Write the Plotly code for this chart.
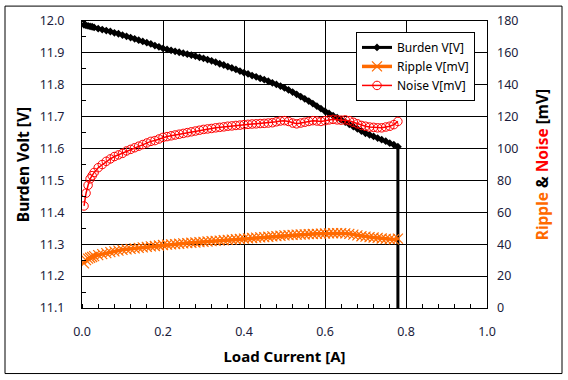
import plotly.graph_objects as go

load_current = [0.005, 0.01, 0.015, 0.02, 0.025, 0.03, 0.04, 0.05, 0.06, 0.07, 0.08, 0.09,
                0.10, 0.11, 0.12, 0.13, 0.14, 0.15, 0.16, 0.17, 0.18, 0.19,
                0.20, 0.21, 0.22, 0.23, 0.24, 0.25, 0.26, 0.27, 0.28, 0.29,
                0.30, 0.31, 0.32, 0.33, 0.34, 0.35, 0.36, 0.37, 0.38, 0.39,
                0.40, 0.41, 0.42, 0.43, 0.44, 0.45, 0.46, 0.47, 0.48, 0.49,
                0.50, 0.51, 0.52, 0.53, 0.54, 0.55, 0.56, 0.57, 0.58, 0.59,
                0.60, 0.61, 0.62, 0.63, 0.64, 0.65, 0.66, 0.67, 0.68, 0.69,
                0.70, 0.71, 0.72, 0.73, 0.74, 0.75, 0.76, 0.77, 0.78]

burden_v = [11.988, 11.986, 11.985, 11.983, 11.982, 11.980, 11.976, 11.973, 11.970, 11.967, 11.963, 11.960,
            11.956, 11.952, 11.948, 11.944, 11.940, 11.936, 11.932, 11.928, 11.923, 11.919,
            11.914, 11.911, 11.908, 11.905, 11.902, 11.899, 11.896, 11.893, 11.890, 11.886,
            11.883, 11.879, 11.875, 11.871, 11.866, 11.862, 11.857, 11.853, 11.848, 11.843,
            11.838, 11.834, 11.829, 11.825, 11.820, 11.816, 11.811, 11.806, 11.801, 11.796,
            11.790, 11.784, 11.777, 11.770, 11.763, 11.756, 11.749, 11.741, 11.733, 11.725,
            11.717, 11.710, 11.703, 11.697, 11.690, 11.683, 11.676, 11.669, 11.662, 11.655,
            11.648, 11.643, 11.638, 11.633, 11.628, 11.623, 11.617, 11.612, 11.606]
# final reading after the supply dropped out
burden_drop_x = [0.78]
burden_drop_v = [0.0]

ripple_mv = [28, 30, 31, 31.5, 32, 32.5, 33.2, 33.8, 34.4, 35, 35.5, 36,
             36.5, 36.8, 37.1, 37.4, 37.7, 38, 38.3, 38.6, 38.9, 39.2,
             39.5, 39.7, 39.9, 40.1, 40.3, 40.5, 40.7, 40.9, 41.1, 41.3,
             41.5, 41.7, 41.9, 42.1, 42.3, 42.5, 42.7, 42.9, 43.1, 43.3,
             43.5, 43.7, 43.9, 44.1, 44.3, 44.5, 44.7, 44.9, 45.1, 45.3,
             45.5, 45.7, 45.9, 46.0, 46.1, 46.2, 46.3, 46.4, 46.5, 46.6,
             46.7, 46.8, 46.9, 47, 47, 46.8, 46.5, 46, 45.5, 45,
             44.8, 44.5, 44.2, 44, 43.6, 43.4, 43.2, 43, 43.5]

noise_mv = [64, 72, 77, 81, 83, 85, 88, 90, 92, 93.5, 95, 96,
            97, 98.5, 99.5, 100.5, 101.5, 102.5, 103.5, 104.5, 105, 106,
            107, 107.5, 108, 108.5, 109, 109.5, 110, 110.5, 111, 111.5,
            112, 112.3, 112.6, 113, 113.3, 113.6, 114, 114.2, 114.5, 114.7,
            115, 115.2, 115.4, 115.5, 115.7, 115.8, 116, 116.2, 116.8, 117.3,
            117.5, 117, 116, 115.5, 116, 116.5, 117, 117.5, 117.3, 117,
            117.5, 118, 118.3, 118, 117.8, 118, 117.5, 116.5, 115.5, 114.5,
            114, 113.5, 113.3, 113, 113, 113.5, 114, 115, 117]

x_ticks = [0.0, 0.2, 0.4, 0.6, 0.8, 1.0]
y_ticks = [11.1, 11.2, 11.3, 11.4, 11.5, 11.6, 11.7, 11.8, 11.9, 12.0]
y2_ticks = [0, 20, 40, 60, 80, 100, 120, 140, 160, 180]

FONT = "Noto Sans, DejaVu Sans, sans-serif"
TICK_COLOR = "#1c1c3c"
ORANGE = "#FF6A00"
RED = "#FF0000"

fig = go.Figure()

fig.add_trace(go.Scatter(
    x=load_current + burden_drop_x, y=burden_v + burden_drop_v,
    name="Burden V[V]", mode="lines+markers",
    line=dict(color="black", width=3),
    marker=dict(symbol="diamond", size=6, color="black"),
    yaxis="y"))

fig.add_trace(go.Scatter(
    x=load_current, y=ripple_mv,
    name="Ripple V[mV]", mode="lines+markers",
    line=dict(color=ORANGE, width=3.5),
    marker=dict(symbol="x-thin", size=10, line=dict(color=ORANGE, width=1.2)),
    yaxis="y2"))

fig.add_trace(go.Scatter(
    x=load_current, y=noise_mv,
    name="Noise V[mV]", mode="lines+markers",
    line=dict(color=RED, width=1.5),
    marker=dict(symbol="circle-open", size=8.5, color=RED, line=dict(width=1)),
    yaxis="y2"))

L, R, T, B = 82, 81, 19, 72
W, H = 568, 380
pw, ph = W - L - R, H - T - B

def px_x(p):
    return (p - L) / pw

def px_y(p):
    return (H - B - p) / ph

fig.update_layout(
    width=W, height=H,
    margin=dict(l=L, r=R, t=T, b=B),
    paper_bgcolor="white", plot_bgcolor="white",
    font=dict(family=FONT, size=12, color=TICK_COLOR),
    showlegend=True,
    legend=dict(x=px_x(356), y=px_y(30), xanchor="left", yanchor="top",
                bgcolor="white", bordercolor="black", borderwidth=1,
                font=dict(family=FONT, size=12, color="black"),
                itemwidth=30, tracegroupgap=0),
    xaxis=dict(range=[0, 1], tickvals=x_ticks, ticktext=[f"{v:.1f}" for v in x_ticks],
               showgrid=True, gridcolor="black", gridwidth=1,
               showline=True, linecolor="black", linewidth=1, mirror=True,
               ticks="", zeroline=False,
               minor=dict(dtick=0.04, tick0=0, ticks="inside", ticklen=4, tickcolor="black", showgrid=False),
               tickfont=dict(size=12.5, color=TICK_COLOR),
               ticklabelstandoff=12,
               title=dict(text="<b>Load Current [A]</b>", font=dict(size=15, color="black"), standoff=12)),
    yaxis=dict(range=[11.1, 12.0], tickvals=y_ticks, ticktext=[f"{v:.1f}" for v in y_ticks],
               showgrid=True, gridcolor="black", gridwidth=1,
               showline=True, linecolor="black", linewidth=1, mirror=True,
               ticks="", zeroline=False,
               minor=dict(dtick=0.05, tick0=11.1, ticks="inside", ticklen=4, tickcolor="black", showgrid=False),
               tickfont=dict(size=12.5, color=TICK_COLOR),
               ticklabelstandoff=14,
               title=dict(text="<b>Burden Volt [V]</b>", font=dict(size=15.5, color="black"), standoff=6)),
    yaxis2=dict(range=[0, 180], tickvals=y2_ticks, overlaying="y", side="right",
                showgrid=False, zeroline=False, showline=False, ticks="",
                tickfont=dict(size=12.5, color=TICK_COLOR),
                ticklabelstandoff=9,
                title=dict(text=("<b><span style='color:%s'>Ripple</span> &amp; "
                                 "<span style='color:%s'>Noise</span> [mV]</b>") % (ORANGE, RED),
                           font=dict(size=15.5, color="black"), standoff=19)),
    shapes=[dict(type="rect", xref="paper", yref="paper",
                 x0=px_x(5), x1=px_x(562), y0=px_y(374), y1=px_y(4),
                 line=dict(color="black", width=1), fillcolor="rgba(0,0,0,0)", layer="below")],
)

fig.write_html("out.html", config={"displayModeBar": False},
               post_script="document.body.style.margin='0';")
